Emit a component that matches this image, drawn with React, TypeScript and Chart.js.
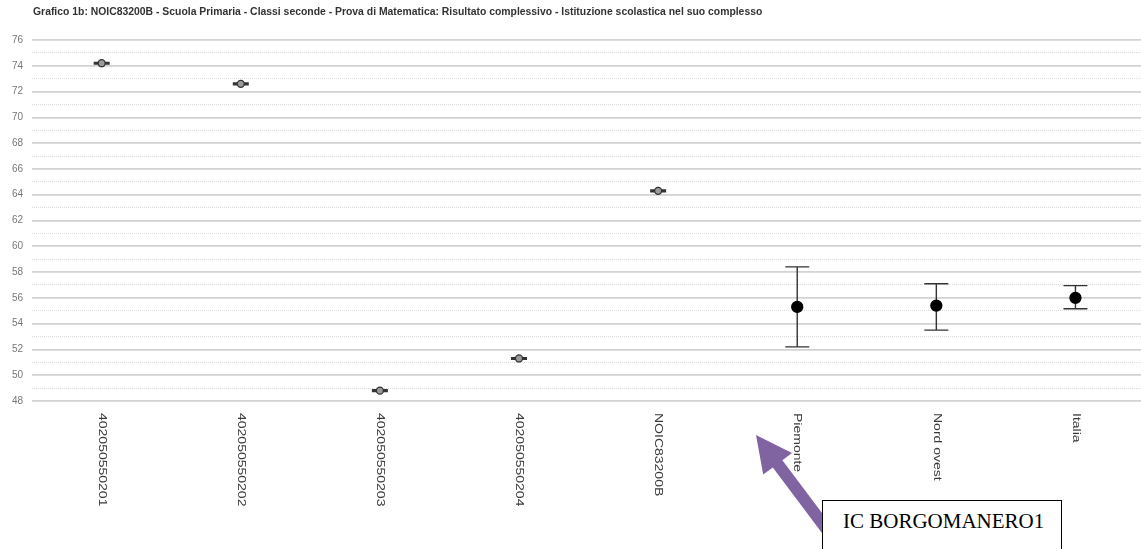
import React, { useEffect, useRef } from "react";
import { Chart, registerables } from "chart.js";

Chart.register(...registerables);

const categories = [
  "402050550201",
  "402050550202",
  "402050550203",
  "402050550204",
  "NOIC83200B",
  "Piemonte",
  "Nord ovest",
  "Italia",
];
const means = [74.2, 72.6, 48.8, 51.3, 64.3, 55.3, 55.4, 56.0];
const lowerBounds = [74.14, 72.54, 48.74, 51.24, 64.24, 52.2, 53.5, 55.15];
const upperBounds = [74.26, 72.66, 48.86, 51.36, 64.36, 58.4, 57.1, 56.95];
const yMin = 48;
const yMax = 76;
const yStep = 1;

const titleText =
  "Grafico 1b: NOIC83200B - Scuola Primaria - Classi seconde - Prova di Matematica: Risultato complessivo - Istituzione scolastica nel suo complesso";
const noteText = "IC BORGOMANERO1";

function arrowPoints(): string {
  const T = [756, 435];
  const u = [0.6, 0.8];
  const n = [-u[1], u[0]];
  const headLen = 36;
  const headHalf = 18;
  const shaftHalf = 6;
  const tail = 100;
  const B = [T[0] + headLen * u[0], T[1] + headLen * u[1]];
  const S = [B[0] + tail * u[0], B[1] + tail * u[1]];
  const pts = [
    T,
    [B[0] + headHalf * n[0], B[1] + headHalf * n[1]],
    [B[0] + shaftHalf * n[0], B[1] + shaftHalf * n[1]],
    [S[0] + shaftHalf * n[0], S[1] + shaftHalf * n[1]],
    [S[0] - shaftHalf * n[0], S[1] - shaftHalf * n[1]],
    [B[0] - shaftHalf * n[0], B[1] - shaftHalf * n[1]],
    [B[0] - headHalf * n[0], B[1] - headHalf * n[1]],
  ];
  return pts.map((p) => p[0].toFixed(1) + "," + p[1].toFixed(1)).join(" ");
}

export default function App() {
  const ref = useRef<HTMLCanvasElement>(null);

  useEffect(() => {
    if (!ref.current) return;

    const errorBars = {
      id: "errorBars",
      beforeDatasetsDraw(chart: any) {
        const { ctx } = chart;
        const x = chart.scales.x;
        const y = chart.scales.y;
        ctx.save();
        ctx.strokeStyle = "#333";
        categories.forEach((_c, i) => {
          const px = x.getPixelForValue(i);
          const yl = y.getPixelForValue(lowerBounds[i]);
          const yh = y.getPixelForValue(upperBounds[i]);
          const cap = i < 5 ? 8 : 12;
          ctx.lineWidth = i < 5 ? 1.6 : 1.4;
          ctx.beginPath();
          ctx.moveTo(px, yl);
          ctx.lineTo(px, yh);
          ctx.moveTo(px - cap, yl);
          ctx.lineTo(px + cap, yl);
          ctx.moveTo(px - cap, yh);
          ctx.lineTo(px + cap, yh);
          ctx.stroke();
        });
        ctx.restore();
      },
    };

    const xLabels = {
      id: "xLabels",
      afterDraw(chart: any) {
        const { ctx, chartArea } = chart;
        const x = chart.scales.x;
        ctx.save();
        ctx.fillStyle = "#3a3a3a";
        ctx.font = "10px 'Liberation Sans', Arial, sans-serif";
        ctx.textAlign = "left";
        ctx.textBaseline = "middle";
        categories.forEach((label, i) => {
          const px = x.getPixelForValue(i);
          ctx.save();
          ctx.translate(px, chartArea.bottom + 12);
          ctx.rotate(Math.PI / 2);
          ctx.scale(1.4, 1);
          ctx.fillText(label, 0, 0);
          ctx.restore();
        });
        ctx.restore();
      },
    };

    const chart = new Chart(ref.current, {
      type: "line",
      data: {
        labels: categories,
        datasets: [
          {
            data: means,
            showLine: false,
            pointRadius: means.map((_v, i) => (i < 5 ? 3.5 : 5.5)),
            pointBackgroundColor: means.map((_v, i) => (i < 5 ? "#9a9a9a" : "#000")),
            pointBorderColor: means.map((_v, i) => (i < 5 ? "#333" : "#000")),
            pointBorderWidth: 1.3,
          },
        ],
      },
      options: {
        animation: false,
        responsive: false,
        layout: { autoPadding: false, padding: { left: 3, top: 40, right: 1, bottom: 140 } },
        plugins: {
          legend: { display: false },
          tooltip: { enabled: false },
          title: { display: false },
        },
        scales: {
          x: {
            type: "category",
            offset: true,
            grid: { display: false },
            border: { display: false },
            ticks: { display: false },
          },
          y: {
            min: yMin,
            max: yMax,
            ticks: {
              stepSize: yStep,
              autoSkip: false,
              padding: 9,
              color: "#777",
              font: { size: 10, family: "'Liberation Sans', Arial, sans-serif" },
              callback: (v: any) => (Number(v) % 2 === 0 ? String(v) : ""),
            },
            grid: {
              drawTicks: false,
              color: (c: any) =>
                c.tick && Math.round(c.tick.value) % 2 === 0 ? "#d2d2d2" : "#dcdcdc",
              lineWidth: (c: any) =>
                c.tick && Math.round(c.tick.value) % 2 === 0 ? 1.7 : 1,
            },
            border: {
              display: false,
              dash: (c: any) =>
                c.tick && Math.round(c.tick.value) % 2 !== 0 ? [1, 1] : [],
            },
          },
        },
      },
      plugins: [errorBars, xLabels],
    } as any);

    return () => chart.destroy();
  }, []);

  return (
    <div
      style={{
        position: "fixed",
        left: 0,
        top: 0,
        width: 1141,
        height: 549,
        overflow: "hidden",
        background: "#fff",
      }}
    >
      <canvas
        ref={ref}
        width={1146}
        height={549}
        style={{ position: "absolute", left: 0, top: 0, width: 1146, height: 549 }}
      />
      <div
        style={{
          position: "absolute",
          left: 33,
          top: 6,
          font: "bold 10.4px 'Liberation Sans', Arial, sans-serif",
          color: "#333",
          whiteSpace: "nowrap",
        }}
      >
        {titleText}
      </div>
      <svg
        width={1141}
        height={549}
        style={{ position: "absolute", left: 0, top: 0, pointerEvents: "none" }}
      >
        <polygon points={arrowPoints()} fill="#8064A2" />
      </svg>
      <div
        style={{
          position: "absolute",
          left: 822,
          top: 500,
          width: 240,
          height: 60,
          border: "1.5px solid #000",
          background: "#fff",
          boxSizing: "border-box",
          font: "21px 'Liberation Serif', 'Times New Roman', serif",
          color: "#000",
          paddingLeft: 20,
          paddingTop: 8,
          lineHeight: "24px",
          whiteSpace: "nowrap",
        }}
      >
        {noteText}
      </div>
    </div>
  );
}
